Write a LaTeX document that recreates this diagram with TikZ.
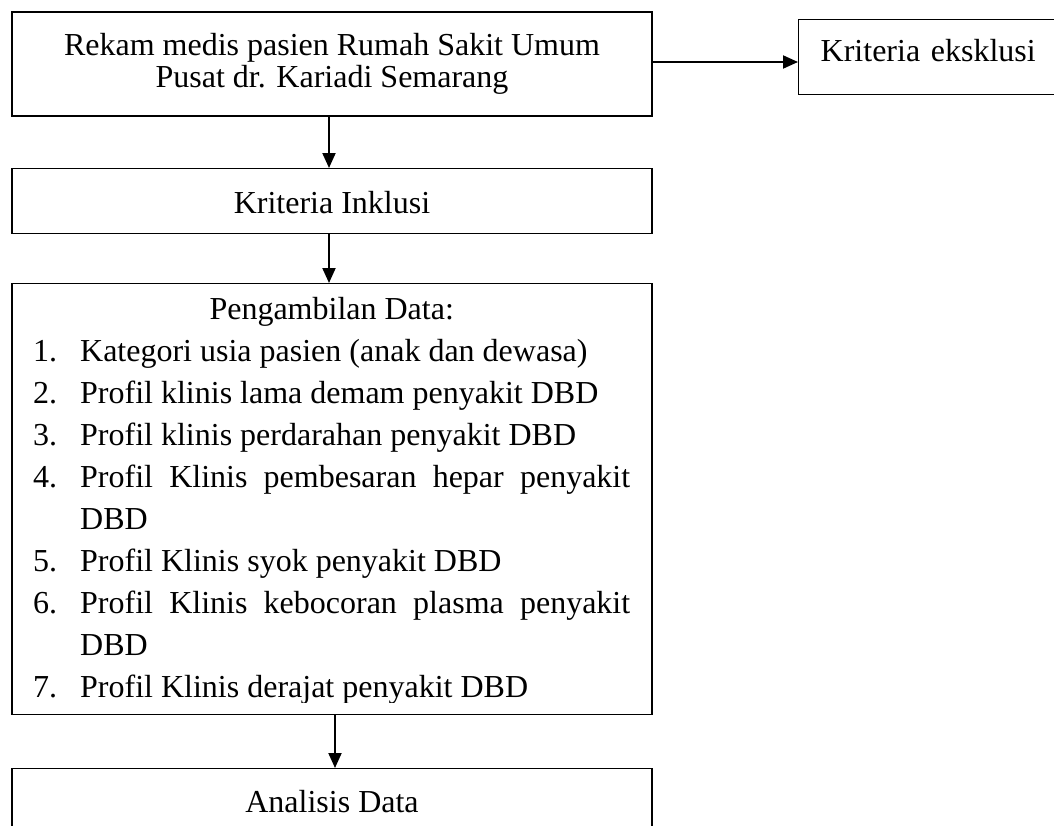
\documentclass[tikz,border=0pt]{standalone}
\usepackage{fontspec}
\setmainfont{Liberation Serif}
\usetikzlibrary{arrows.meta}
\begin{document}
\begin{tikzpicture}[x=1pt,y=-1pt,
  box/.style={draw, line width=1.4pt, rectangle, inner sep=0pt, font=\fontsize{32}{32}\selectfont, align=center},
  arr/.style={line width=2pt, -{Triangle[length=15pt,width=13pt]}},
  listtext/.style={anchor=north west, inner sep=0pt, align=left, font=\fontsize{32}{42}\selectfont}]
\useasboundingbox (0,0) rectangle (1054,825);
% boxes
\node[box, minimum width=640pt, minimum height=104pt] (rekam) at (332,64)
  {Rekam medis pasien Rumah Sakit Umum\\Pusat dr. Kariadi Semarang};
\node[box, anchor=north west, text width=240pt, align=left, text height=21pt, text depth=12pt, inner ysep=21pt, inner xsep=22pt] (excl) at (798,19)
  {Kriteria eksklusi};
\node[box, anchor=north, minimum width=640pt, text height=45pt, text depth=20pt] (inkl) at (332,168)
  {Kriteria Inklusi};
\node[box, anchor=north, minimum width=640pt, minimum height=431pt] (data) at (332,283) {};
\node[box, anchor=north, minimum width=640pt, text height=44pt, text depth=21pt] (anal) at (332,768)
  {Analisis Data};
% list text
\begin{scope}
\clip (12,283) rectangle (652,702);
\node[listtext] (list) at (33,289.6) {%
\strut\makebox[597pt][c]{Pengambilan Data:}\\
\strut\makebox[47pt][l]{1.}Kategori usia pasien (anak dan dewasa)\\
\strut\makebox[47pt][l]{2.}Profil klinis lama demam penyakit DBD\\
\strut\makebox[47pt][l]{3.}Profil klinis perdarahan penyakit DBD\\
\strut\makebox[47pt][l]{4.}\makebox[550pt][s]{Profil Klinis pembesaran hepar penyakit}\\
\strut\hspace*{47pt}DBD\\
\strut\makebox[47pt][l]{5.}Profil Klinis syok penyakit DBD\\
\strut\makebox[47pt][l]{6.}\makebox[550pt][s]{Profil Klinis kebocoran plasma penyakit}\\
\strut\hspace*{47pt}DBD\\
\strut\makebox[47pt][l]{7.}Profil Klinis derajat penyakit DBD};
\end{scope}
% connectors
\draw[arr] ([yshift=2pt]rekam.east) -- ([yshift=2pt]rekam.east -| excl.west);
\draw[arr] ([xshift=-3pt]rekam.south) -- ([xshift=-3pt]rekam.south |- inkl.north);
\draw[arr] ([xshift=-3pt]inkl.south) -- ([xshift=-3pt]inkl.south |- data.north);
\draw[arr] ([xshift=3pt]data.south) -- ([xshift=3pt]data.south |- anal.north);
\end{tikzpicture}
\end{document}
